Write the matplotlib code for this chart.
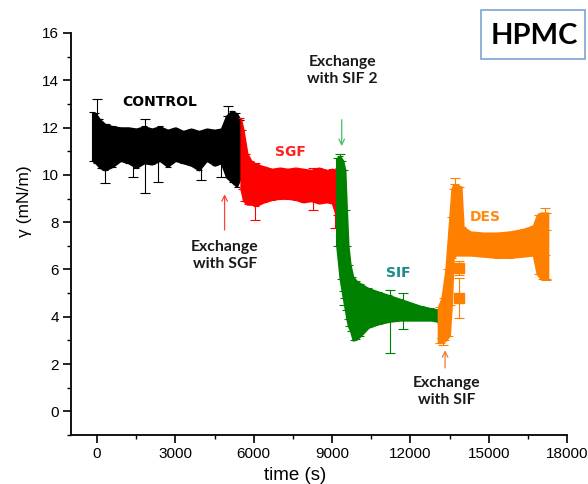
import matplotlib
matplotlib.use("Agg")
import matplotlib.pyplot as plt
from matplotlib.patches import Rectangle
import numpy as np

# ---------------- data ----------------
# CONTROL band (time s, lower / upper edge of the dense error-bar band, mN/m)
ctrl_t  = [-180, -60, 100, 300, 600, 900, 1200, 1500, 1800, 2100, 2400, 2700, 3000,
           3300, 3600, 3900, 4200, 4500, 4750, 4950, 5150, 5350, 5500]
ctrl_hi = [12.65, 12.6, 12.35, 12.15, 12.05, 12.0, 12.0, 11.95, 12.05, 11.95, 12.05, 11.9,
           12.0, 11.85, 11.95, 11.85, 11.95, 11.9, 11.95, 12.5, 12.7, 12.6, 12.3]
ctrl_lo = [10.6, 10.5, 10.3, 10.2, 10.35, 10.6, 10.5, 10.3, 10.5, 10.45, 10.6, 10.35,
           10.6, 10.5, 10.4, 10.2, 10.6, 10.4, 10.5, 9.9, 9.7, 9.5, 9.9]

# SGF band
sgf_t  = [5500, 5600, 5750, 5900, 6100, 6400, 6700, 7000, 7300, 7600, 7900, 8200,
          8500, 8800, 9000, 9150, 9220]
sgf_hi = [12.4, 11.9, 10.9, 10.6, 10.45, 10.35, 10.25, 10.3, 10.25, 10.3, 10.25, 10.2,
          10.3, 10.2, 10.25, 10.2, 10.3]
sgf_lo = [9.4, 8.9, 8.75, 8.75, 8.7, 8.85, 8.95, 9.0, 9.0, 8.95, 8.85, 8.9,
          8.8, 8.85, 8.8, 8.3, 7.9]

# SIF band
sif_t  = [9170, 9300, 9420, 9500, 9560, 9620, 9700, 9800, 9950, 10100, 10400, 10800,
          11200, 11600, 12000, 12400, 12800, 13050, 13150]
sif_hi = [10.7, 10.8, 10.6, 10.2, 8.5, 7.0, 6.2, 5.7, 5.5, 5.4, 5.2, 5.05,
          4.9, 4.75, 4.6, 4.45, 4.35, 4.3, 4.4]
sif_lo = [7.0, 5.6, 4.8, 4.3, 3.9, 3.6, 3.4, 3.0, 3.05, 3.2, 3.55, 3.7,
          3.8, 3.85, 3.85, 3.85, 3.85, 3.8, 3.1]

# DES band
des_t  = [13060, 13200, 13350, 13500, 13580, 13650, 13750, 13950, 14030, 14300, 14800,
          15300, 15800, 16300, 16700, 16850, 17000, 17270]
des_hi = [4.4, 4.8, 6.0, 8.2, 9.4, 9.6, 9.6, 9.5, 7.8, 7.6, 7.55,
          7.55, 7.6, 7.7, 7.85, 8.3, 8.4, 8.4]
des_lo = [2.9, 2.9, 3.0, 3.2, 4.5, 6.5, 6.6, 6.6, 6.6, 6.6, 6.55,
          6.5, 6.5, 6.55, 6.6, 5.8, 5.6, 5.6]

# isolated error bars (time, value, error)
ctrl_bar_t = [0, 320, 1360, 1840, 2320, 3990, 4760, 5000]
ctrl_bar_y = [12.1, 10.9, 10.9, 10.8, 10.8, 10.7, 10.8, 11.8]
ctrl_bar_e = [1.1, 1.25, 1.0, 1.55, 1.1, 0.9, 0.9, 1.1]

sgf_bar_t = [6030, 8260, 9100]
sgf_bar_y = [9.3, 9.4, 8.9]
sgf_bar_e = [1.2, 0.9, 1.15]

sif_bar_t = [9300, 11210, 11710, 9450]
sif_bar_y = [10.2, 3.8, 4.24, 4.8]
sif_bar_e = [0.7, 1.33, 0.77, 0.3]

des_bar_t = [13700, 13250, 17170, 17200]
des_bar_y = [9.2, 3.5, 7.6, 6.6]
des_bar_e = [0.65, 0.7, 1.0, 1.05]

des_sq_t = [13880, 13880]
des_sq_y = [6.06, 4.8]
des_sq_e = [0.3, 0.85]

# ---------------- figure ----------------
W, H = 588, 484
fig = plt.figure(figsize=(W / 100, H / 100), dpi=100)
ax = fig.add_axes([71 / W, 1 - 435 / H, (567 - 71) / W, (435 - 33) / H])

C_BLACK, C_RED, C_GREEN, C_ORANGE = "#000000", "#ff0000", "#008000", "#ff8000"

def band(t, lo, hi, color):
    t, lo, hi = map(np.asarray, (t, lo, hi))
    ax.fill_between(t, lo, hi, color=color, lw=1.2, edgecolor=color, zorder=2)
    mid = (lo + hi) / 2
    ax.errorbar(t, mid, yerr=(hi - lo) / 2, fmt="none", ecolor=color,
                elinewidth=0.8, capsize=2.2, capthick=0.8, zorder=2)

def bars(t, y, e, color, marker=None):
    ax.errorbar(t, y, yerr=e, fmt="s" if marker else "none", color=color,
                ms=7, ecolor=color, elinewidth=0.8, capsize=3.5, capthick=0.8, zorder=2)

band(ctrl_t, ctrl_lo, ctrl_hi, C_BLACK)
bars(ctrl_bar_t, ctrl_bar_y, ctrl_bar_e, C_BLACK)
band(sgf_t, sgf_lo, sgf_hi, C_RED)
bars(sgf_bar_t, sgf_bar_y, sgf_bar_e, C_RED)
band(sif_t, sif_lo, sif_hi, C_GREEN)
bars(sif_bar_t, sif_bar_y, sif_bar_e, C_GREEN)
band(des_t, des_lo, des_hi, C_ORANGE)
bars(des_bar_t, des_bar_y, des_bar_e, C_ORANGE)
bars(des_sq_t, des_sq_y, des_sq_e, C_ORANGE, marker=True)

# axes styling
ax.set_xlim(-1000, 18000)
ax.set_ylim(-1, 16)
ax.set_xticks([0, 3000, 6000, 9000, 12000, 15000, 18000])
ax.set_xticks(np.arange(1500, 18000, 3000), minor=True)
ax.set_yticks(np.arange(0, 17, 2))
ax.set_yticks(np.arange(-1, 16, 2), minor=True)
for s in ("top", "right"):
    ax.spines[s].set_visible(False)
for s in ("left", "bottom"):
    ax.spines[s].set_linewidth(1.3)
ax.tick_params(which="major", direction="out", length=5.5, width=1.2,
               labelsize=11, pad=3)
ax.tick_params(which="minor", direction="out", length=3, width=1.0)
tick_font = "Liberation Sans"
for lab in ax.get_xticklabels() + ax.get_yticklabels():
    lab.set_fontfamily(tick_font)

ax.set_xlabel("time (s)", fontsize=13.5, family=tick_font)
ax.xaxis.set_label_coords((295 - 71) / 496, (435 - 475) / 402)
ax.set_ylabel("\u03b3 (mN/m)", fontsize=12.5, family=tick_font)
ax.yaxis.set_label_coords((24 - 71) / 496, (435 - 201) / 402)
ax.xaxis.label.set_va("center")
ax.yaxis.label.set_va("center")

# phase labels
lab_kw = dict(fontsize=10, fontweight="bold", family="DejaVu Sans",
              ha="center", va="center", zorder=5)
ax.text(2390, 13.1, "CONTROL", color="black", **lab_kw)
ax.text(7390, 10.95, "SGF", color="#ff2020", **lab_kw)
ax.text(11530, 5.85, "SIF", color="#1a8a8a", **lab_kw)
ax.text(14870, 8.22, "DES", color="#ff8a10", **lab_kw)

# exchange annotations
ex_kw = dict(fontsize=11.3, fontweight="bold", family="Lato", ha="center",
             va="center", linespacing=1.25, color="#1a1a1a", zorder=5)
ax.text(4890, 6.6, "Exchange\nwith SGF", **ex_kw)
ax.annotate("", xy=(4883, 9.3), xytext=(4883, 7.55),
            arrowprops=dict(arrowstyle="->", color="#ff4040", lw=0.9))
ax.text(9410, 14.4, "Exchange\nwith SIF 2", **ex_kw)
ax.annotate("", xy=(9370, 11.1), xytext=(9370, 12.45),
            arrowprops=dict(arrowstyle="->", color="#40c060", lw=0.9))
ax.text(13400, 0.85, "Exchange\nwith SIF", **ex_kw)
ax.annotate("", xy=(13330, 2.7), xytext=(13330, 1.72),
            arrowprops=dict(arrowstyle="->", color="#f07830", lw=0.9))

# HPMC box
fig.patches.append(Rectangle((481 / W, 1 - 59 / H), 104 / W, 49 / H,
                             transform=fig.transFigure, fill=False,
                             edgecolor="#7fa3d8", lw=1.2))
fig.text(534 / W, 1 - 36 / H, "HPMC", fontsize=21, fontweight="bold",
         family="Lato", ha="center", va="center")

fig.savefig("out.png", dpi=100)
